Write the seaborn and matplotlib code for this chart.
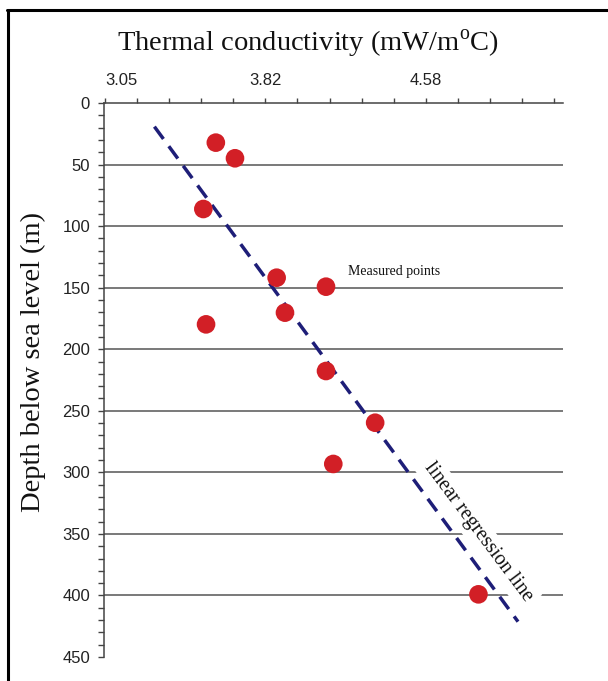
import matplotlib
matplotlib.use("Agg")
import matplotlib.pyplot as plt
import seaborn as sns
import numpy as np
from matplotlib.ticker import FixedLocator, MultipleLocator
from matplotlib.lines import Line2D

# ---- data ----
conductivity = [3.582, 3.674, 3.522, 3.874, 3.914, 3.535, 4.111, 4.111, 4.347, 4.146, 4.843]
depth = [32.2, 44.9, 86.1, 141.9, 170.3, 179.8, 149.2, 217.7, 259.7, 293.2, 399.1]
reg_x = [3.287, 5.033]
reg_y = [19.2, 421.3]
x_label_values = [3.05, 3.82, 4.58]
x_tick_labels = ["3.05", "3.82", "4.58"]
y_ticks = [0, 50, 100, 150, 200, 250, 300, 350, 400, 450]
grid_levels = [50, 100, 150, 200, 250, 300, 350, 400]

sns.set_style("white")
plt.rcParams["font.family"] = ["Liberation Sans", "DejaVu Sans"]

fig = plt.figure(figsize=(6.08, 6.81), dpi=100)
ax = fig.add_axes([104 / 608, 1 - 657 / 681, (563 - 104) / 608, (657 - 103) / 681])

ax.set_xlim(3.045, 5.249)
ax.set_ylim(450, 0)

for g in grid_levels:
    ax.axhline(g, color="#555555", lw=1.1, zorder=1)

sns.lineplot(x=reg_x, y=reg_y, ax=ax, color="#1E1E78", lw=2.5,
             linestyle=(0, (4.4, 2.6)), zorder=2)
sns.scatterplot(x=conductivity, y=depth, ax=ax, s=180, color="#D21F26",
                edgecolor="none", linewidth=0, zorder=4)

# x axis on top
ax.xaxis.tick_top()
minor_step = (x_label_values[1] - x_label_values[0]) / 5
xt = [x_label_values[0] + i * minor_step for i in range(15)]
labels = []
for v in xt:
    lab = ""
    for lv, ls in zip(x_label_values, x_tick_labels):
        if abs(v - lv) < minor_step / 3:
            lab = ls
    labels.append(lab)
ax.xaxis.set_major_locator(FixedLocator(xt))
ax.set_xticklabels(labels)
ax.tick_params(axis="x", which="major", top=True, bottom=False, direction="out",
               length=3.5, width=1, color="#444444", pad=7, labelsize=12,
               labelcolor="#222222")
for t in ax.get_xticklabels():
    if t.get_text() == x_tick_labels[0]:
        t.set_ha("left")

ax.yaxis.set_major_locator(FixedLocator(y_ticks))
ax.yaxis.set_minor_locator(MultipleLocator(10))
ax.tick_params(axis="y", which="major", left=True, direction="out", length=4,
               width=1, color="#444444", pad=6, labelsize=12, labelcolor="#222222")
ax.tick_params(axis="y", which="minor", left=True, direction="out", length=4,
               width=1, color="#444444")

for s in ["bottom", "right"]:
    ax.spines[s].set_visible(False)
for s in ["top", "left"]:
    ax.spines[s].set_color("#444444")
    ax.spines[s].set_linewidth(1.1)

serif = ["Liberation Serif", "DejaVu Serif"]
fig.text(308 / 608, 1 - 44 / 681, "Thermal conductivity (mW/m$^\\mathregular{o}$C)",
         family=serif, fontsize=20.5, ha="center", va="center", color="#111111")
fig.text(33 / 608, 1 - 362 / 681, "Depth below sea level (m)", family=serif,
         fontsize=20.5, rotation=90, ha="center", va="center", color="#111111")

fig.text(348 / 608, 1 - 272 / 681, "Measured points", family=serif, fontsize=10,
         ha="left", va="center", color="#111111")
lbl = fig.text(478 / 608, 1 - 532 / 681, "linear regression line", family=serif,
               fontsize=14.5, rotation=-53.2, rotation_mode="anchor", ha="center",
               va="center", color="#111111", zorder=3,
               bbox=dict(facecolor="white", edgecolor="none", pad=3))

# figure border (top and left)
fig.add_artist(Line2D([7 / 608, 1.0], [1 - 9.5 / 681, 1 - 9.5 / 681], color="black",
                      lw=2.2, transform=fig.transFigure))
fig.add_artist(Line2D([7.5 / 608, 7.5 / 608], [0, 1 - 9.5 / 681], color="black",
                      lw=2.2, transform=fig.transFigure))

fig.savefig("out.png", dpi=100)
